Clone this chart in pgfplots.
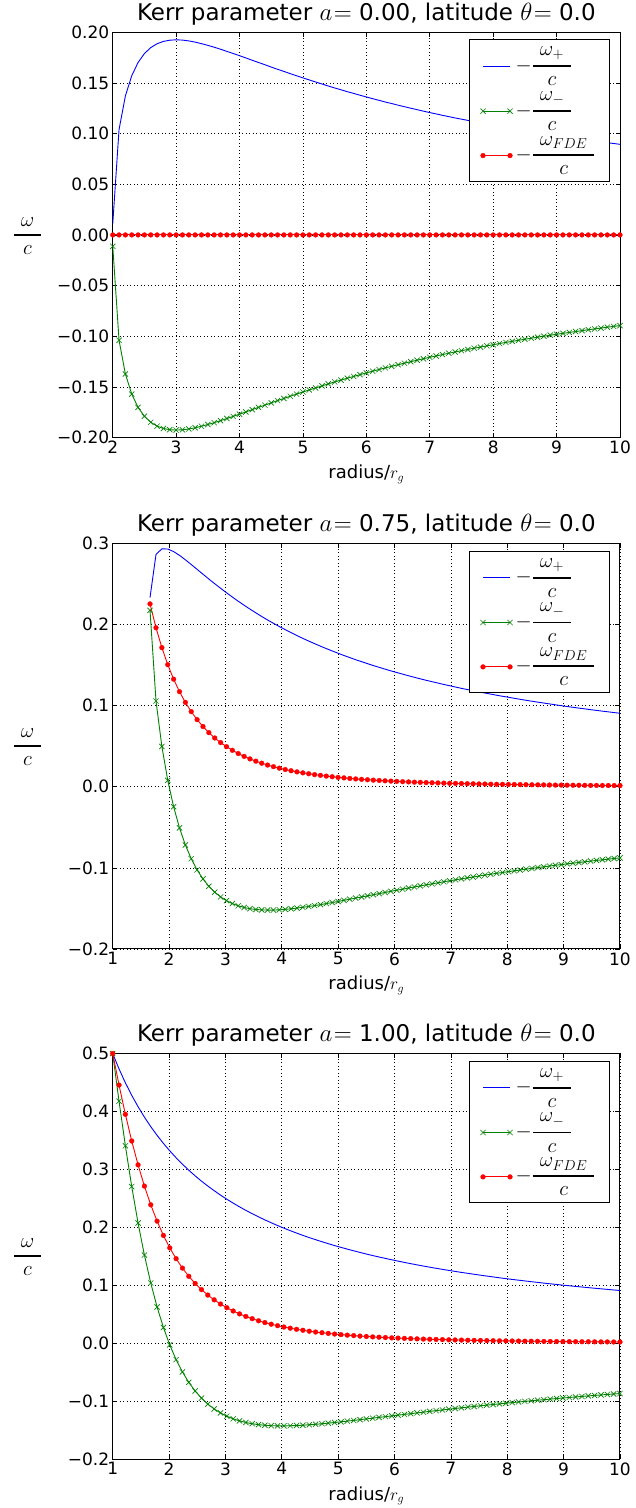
\documentclass[border=0pt]{standalone}
\usepackage{amsmath}
\usepackage{fontspec}
\setmainfont{DejaVu Sans}
\usepackage{pgfplots}
\pgfplotsset{compat=1.18}
\usepackage{pgfplotstable}
\definecolor{mplgreen}{rgb}{0,0.5,0}
\definecolor{mplblue}{rgb}{0,0,1}
\definecolor{mplred}{rgb}{1,0,0}

\pgfplotstableread{
r wp wm wf
2.001 0.0112 -0.0112 0
2.1 0.1039 -0.1039 0
2.2 0.1371 -0.1371 0
2.3 0.1570 -0.1570 0
2.4 0.1701 -0.1701 0
2.5 0.1789 -0.1789 0
2.6 0.1848 -0.1848 0
2.7 0.1886 -0.1886 0
2.8 0.1909 -0.1909 0
2.9 0.1921 -0.1921 0
3.0 0.1925 -0.1925 0
3.1 0.1922 -0.1922 0
3.2 0.1914 -0.1914 0
3.3 0.1902 -0.1902 0
3.4 0.1887 -0.1887 0
3.5 0.1870 -0.1870 0
3.6 0.1852 -0.1852 0
3.7 0.1832 -0.1832 0
3.8 0.1811 -0.1811 0
3.9 0.1790 -0.1790 0
4.0 0.1768 -0.1768 0
4.1 0.1746 -0.1746 0
4.2 0.1723 -0.1723 0
4.3 0.1701 -0.1701 0
4.4 0.1679 -0.1679 0
4.5 0.1656 -0.1656 0
4.6 0.1634 -0.1634 0
4.7 0.1613 -0.1613 0
4.8 0.1591 -0.1591 0
4.9 0.1570 -0.1570 0
5.0 0.1549 -0.1549 0
5.1 0.1529 -0.1529 0
5.2 0.1509 -0.1509 0
5.3 0.1489 -0.1489 0
5.4 0.1469 -0.1469 0
5.5 0.1450 -0.1450 0
5.6 0.1432 -0.1432 0
5.7 0.1413 -0.1413 0
5.8 0.1396 -0.1396 0
5.9 0.1378 -0.1378 0
6.0 0.1361 -0.1361 0
6.1 0.1344 -0.1344 0
6.2 0.1328 -0.1328 0
6.3 0.1311 -0.1311 0
6.4 0.1296 -0.1296 0
6.5 0.1280 -0.1280 0
6.6 0.1265 -0.1265 0
6.7 0.1250 -0.1250 0
6.8 0.1236 -0.1236 0
6.9 0.1221 -0.1221 0
7.0 0.1207 -0.1207 0
7.1 0.1194 -0.1194 0
7.2 0.1180 -0.1180 0
7.3 0.1167 -0.1167 0
7.4 0.1154 -0.1154 0
7.5 0.1142 -0.1142 0
7.6 0.1130 -0.1130 0
7.7 0.1117 -0.1117 0
7.8 0.1106 -0.1106 0
7.9 0.1094 -0.1094 0
8.0 0.1083 -0.1083 0
8.1 0.1071 -0.1071 0
8.2 0.1060 -0.1060 0
8.3 0.1050 -0.1050 0
8.4 0.1039 -0.1039 0
8.5 0.1029 -0.1029 0
8.6 0.1019 -0.1019 0
8.7 0.1009 -0.1009 0
8.8 0.0999 -0.0999 0
8.9 0.0989 -0.0989 0
9.0 0.0980 -0.0980 0
9.1 0.0971 -0.0971 0
9.2 0.0962 -0.0962 0
9.3 0.0953 -0.0953 0
9.4 0.0944 -0.0944 0
9.5 0.0935 -0.0935 0
9.6 0.0927 -0.0927 0
9.7 0.0919 -0.0919 0
9.8 0.0910 -0.0910 0
9.9 0.0902 -0.0902 0
10.0 0.0894 -0.0894 0
}\tA

\pgfplotstableread{
r wp wm wf
1.6622 0.2334 0.2175 0.2255
1.7682 0.2865 0.1058 0.1961
1.8724 0.2934 0.0497 0.1716
1.9766 0.2932 0.0080 0.1506
2.0808 0.2900 -0.0246 0.1327
2.1850 0.2854 -0.0507 0.1173
2.2892 0.2799 -0.0717 0.1041
2.3934 0.2741 -0.0887 0.0927
2.4976 0.2681 -0.1025 0.0828
2.6018 0.2621 -0.1136 0.0743
2.7060 0.2562 -0.1227 0.0668
2.8102 0.2504 -0.1299 0.0602
2.9144 0.2448 -0.1358 0.0545
3.0186 0.2393 -0.1404 0.0495
3.1228 0.2340 -0.1440 0.0450
3.2270 0.2288 -0.1467 0.0410
3.3312 0.2239 -0.1488 0.0375
3.4354 0.2191 -0.1503 0.0344
3.5396 0.2145 -0.1513 0.0316
3.6438 0.2100 -0.1518 0.0291
3.7480 0.2057 -0.1520 0.0268
3.8522 0.2016 -0.1520 0.0248
3.9564 0.1976 -0.1517 0.0230
4.0606 0.1938 -0.1511 0.0213
4.1648 0.1901 -0.1504 0.0198
4.2690 0.1865 -0.1496 0.0184
4.3732 0.1830 -0.1486 0.0172
4.4774 0.1797 -0.1476 0.0161
4.5816 0.1765 -0.1465 0.0150
4.6858 0.1734 -0.1453 0.0141
4.7900 0.1704 -0.1440 0.0132
4.8942 0.1675 -0.1427 0.0124
4.9984 0.1647 -0.1414 0.0116
5.1026 0.1619 -0.1400 0.0110
5.2068 0.1593 -0.1386 0.0103
5.3110 0.1567 -0.1372 0.0097
5.4152 0.1543 -0.1359 0.0092
5.5194 0.1519 -0.1345 0.0087
5.6236 0.1495 -0.1330 0.0082
5.7278 0.1473 -0.1317 0.0078
5.8320 0.1451 -0.1303 0.0074
5.9362 0.1429 -0.1289 0.0070
6.0404 0.1409 -0.1275 0.0067
6.1446 0.1389 -0.1262 0.0063
6.2488 0.1369 -0.1248 0.0060
6.3530 0.1350 -0.1235 0.0057
6.4572 0.1331 -0.1222 0.0055
6.5614 0.1313 -0.1209 0.0052
6.6656 0.1296 -0.1196 0.0050
6.7698 0.1279 -0.1184 0.0048
6.8740 0.1262 -0.1171 0.0045
6.9782 0.1246 -0.1159 0.0043
7.0824 0.1230 -0.1147 0.0042
7.1866 0.1214 -0.1135 0.0040
7.2908 0.1199 -0.1123 0.0038
7.3950 0.1185 -0.1112 0.0037
7.4992 0.1170 -0.1100 0.0035
7.6034 0.1156 -0.1089 0.0034
7.7076 0.1143 -0.1078 0.0032
7.8118 0.1129 -0.1067 0.0031
7.9160 0.1116 -0.1057 0.0030
8.0202 0.1104 -0.1046 0.0029
8.1244 0.1091 -0.1036 0.0028
8.2286 0.1079 -0.1026 0.0027
8.3328 0.1067 -0.1016 0.0026
8.4372 0.1055 -0.1006 0.0025
8.5414 0.1044 -0.0996 0.0024
8.6456 0.1033 -0.0987 0.0023
8.7498 0.1022 -0.0977 0.0022
8.8540 0.1011 -0.0968 0.0021
8.9582 0.1000 -0.0959 0.0021
9.0624 0.0990 -0.0950 0.0020
9.1666 0.0980 -0.0942 0.0019
9.2708 0.0970 -0.0933 0.0019
9.3750 0.0961 -0.0925 0.0018
9.4792 0.0951 -0.0916 0.0017
9.5834 0.0942 -0.0908 0.0017
9.6876 0.0933 -0.0900 0.0016
9.7918 0.0924 -0.0892 0.0016
9.8960 0.0915 -0.0884 0.0015
10.0000 0.0907 -0.0877 0.0015
}\tB

\pgfplotstableread{
r wp wm wf
1.0000 0.5000 0.5000 0.5000
1.1125 0.4734 0.4176 0.4455
1.2250 0.4494 0.3406 0.3950
1.3375 0.4278 0.2703 0.3490
1.4500 0.4082 0.2074 0.3078
1.5625 0.3902 0.1520 0.2711
1.6750 0.3738 0.1038 0.2388
1.7875 0.3587 0.0624 0.2106
1.9000 0.3448 0.0270 0.1859
2.0125 0.3320 -0.0031 0.1644
2.1250 0.3200 -0.0285 0.1458
2.2375 0.3089 -0.0498 0.1295
2.3500 0.2985 -0.0677 0.1154
2.4625 0.2888 -0.0826 0.1031
2.5750 0.2797 -0.0950 0.0924
2.6875 0.2712 -0.1052 0.0830
2.8000 0.2632 -0.1136 0.0748
2.9125 0.2556 -0.1205 0.0675
3.0250 0.2484 -0.1261 0.0612
3.1375 0.2417 -0.1307 0.0555
3.2500 0.2353 -0.1342 0.0505
3.3625 0.2292 -0.1370 0.0461
3.4750 0.2235 -0.1391 0.0422
3.5875 0.2180 -0.1407 0.0386
3.7000 0.2128 -0.1418 0.0355
3.8125 0.2078 -0.1425 0.0327
3.9250 0.2030 -0.1428 0.0301
4.0375 0.1985 -0.1428 0.0278
4.1500 0.1942 -0.1426 0.0258
4.2625 0.1900 -0.1422 0.0239
4.3750 0.1860 -0.1417 0.0222
4.4875 0.1822 -0.1409 0.0206
4.6000 0.1786 -0.1401 0.0192
4.7125 0.1751 -0.1391 0.0180
4.8250 0.1717 -0.1381 0.0168
4.9375 0.1684 -0.1370 0.0157
5.0500 0.1653 -0.1358 0.0147
5.1625 0.1623 -0.1346 0.0138
5.2750 0.1594 -0.1334 0.0130
5.3875 0.1566 -0.1321 0.0122
5.5000 0.1538 -0.1308 0.0115
5.6125 0.1512 -0.1295 0.0108
5.7250 0.1487 -0.1282 0.0102
5.8375 0.1463 -0.1269 0.0097
5.9500 0.1439 -0.1256 0.0091
6.0625 0.1416 -0.1243 0.0087
6.1750 0.1394 -0.1230 0.0082
6.2875 0.1372 -0.1217 0.0078
6.4000 0.1351 -0.1204 0.0074
6.5125 0.1331 -0.1191 0.0070
6.6250 0.1311 -0.1178 0.0067
6.7375 0.1292 -0.1165 0.0064
6.8500 0.1274 -0.1153 0.0061
6.9625 0.1256 -0.1140 0.0058
7.0750 0.1238 -0.1128 0.0055
7.1875 0.1221 -0.1116 0.0053
7.3000 0.1205 -0.1104 0.0050
7.4125 0.1189 -0.1093 0.0048
7.5250 0.1173 -0.1081 0.0046
7.6375 0.1158 -0.1070 0.0044
7.7500 0.1143 -0.1059 0.0042
7.8625 0.1128 -0.1048 0.0040
7.9750 0.1114 -0.1037 0.0039
8.0875 0.1100 -0.1026 0.0037
8.2000 0.1087 -0.1016 0.0036
8.3125 0.1074 -0.1005 0.0034
8.4250 0.1061 -0.0995 0.0033
8.5375 0.1049 -0.0985 0.0032
8.6500 0.1036 -0.0976 0.0030
8.7625 0.1024 -0.0966 0.0029
8.8750 0.1013 -0.0956 0.0028
8.9875 0.1001 -0.0947 0.0027
9.1000 0.0990 -0.0938 0.0026
9.2125 0.0979 -0.0929 0.0025
9.3250 0.0969 -0.0920 0.0024
9.4375 0.0958 -0.0911 0.0024
9.5500 0.0948 -0.0903 0.0023
9.6625 0.0938 -0.0894 0.0022
9.7750 0.0928 -0.0886 0.0021
9.8875 0.0918 -0.0878 0.0020
10.0000 0.0909 -0.0870 0.0020
}\tC

\newcommand{\fs}{\fontsize{17}{20}\selectfont}
\newcommand{\fl}{\fontsize{21}{24}\selectfont}
\newcommand{\mfrac}[2]{\genfrac{}{}{1.8pt}{0}{\mskip6mu#1\mskip6mu}{#2}}

\pgfplotsset{
  kerr/.style={
    scale only axis, width=507.3pt, height=405.5pt,
    anchor=south west,
    tick align=inside, major tick length=4.5pt,
    axis line style={line width=1pt},
    tick style={black, line width=0.7pt},
    grid=major,
    grid style={black, line width=0.6pt, dash pattern=on 1pt off 2.5pt},
    /pgf/number format/assume math mode=true,
    tick label style={font=\fs},
    xmax=10, xtick={1,2,...,10},
    xlabel={radius/$r_g$},
    xlabel style={font=\fontsize{18}{21}\selectfont, at={(axis description cs:0.5,0)}, anchor=base, yshift=-41pt},
    title style={font=\fontsize{23}{27}\selectfont, at={(axis description cs:0.5,1)}, anchor=base, yshift=5.5pt},
    legend style={at={(axis description cs:1,1)}, anchor=north east, xshift=-10pt, yshift=-7.3pt,
      draw=black, line width=0.8pt, font=\fl, row sep=0pt, inner xsep=11pt, inner ysep=4pt,
      nodes={inner sep=3pt, text depth={}},
      /tikz/column 2/.style={column sep=5pt}},
    legend cell align=left,
    legend image code/.code={\draw[##1] plot coordinates {(0pt,0pt) (27pt,0pt)};},
    extra description/.code={\node[font=\fl, anchor=base, yshift=-5.25pt] at (-0.168,0.5) {$\mfrac{\omega}{c}$};},
  },
  lp/.style={mplblue, line width=0.9pt, mark=none},
  lm/.style={mplgreen, line width=0.9pt, mark=x, mark size=3.7pt, mark options={line width=0.65pt}},
  lf/.style={mplred, line width=0.9pt, mark=*, mark size=2.4pt, mark options={fill=mplred, draw=mplred, line width=0.3pt}},
}

\begin{document}
\begin{tikzpicture}
\useasboundingbox (0,0) rectangle (635pt,1508pt);

\begin{axis}[kerr, at={(112.7pt,1070.3pt)},
  title={Kerr parameter ${a}\mskip1mu{=}$ 0.00, latitude ${\theta}\mskip1mu{=}$ 0.0},
  xmin=2, ymin=-0.2, ymax=0.2,
  ytick={-0.2,-0.15,-0.1,-0.05,0,0.05,0.1,0.15,0.2},
  yticklabels={−0.20,−0.15,−0.10,−0.05,0.00,0.05,0.10,0.15,0.20}]
\addplot[lp] table[x=r,y=wp] {\tA};
\addlegendentry{$-\mfrac{\omega_{+}}{c}$}
\addplot[lm] table[x=r,y=wm] {\tA};
\addlegendentry{$-\mfrac{\omega_{-}}{c}$}
\addplot[lf] table[x=r,y=wf] {\tA};
\addlegendentry{$-\mfrac{\omega_{FDE}}{c}$}
\end{axis}

\begin{axis}[kerr, at={(112.7pt,559pt)},
  title={Kerr parameter ${a}\mskip1mu{=}$ 0.75, latitude ${\theta}\mskip1mu{=}$ 0.0},
  xmin=1, ymin=-0.2, ymax=0.3,
  ytick={-0.2,-0.1,0,0.1,0.2,0.3},
  yticklabels={−0.2,−0.1,0.0,0.1,0.2,0.3}]
\addplot[lp] table[x=r,y=wp] {\tB};
\addlegendentry{$-\mfrac{\omega_{+}}{c}$}
\addplot[lm] table[x=r,y=wm] {\tB};
\addlegendentry{$-\mfrac{\omega_{-}}{c}$}
\addplot[lf] table[x=r,y=wf] {\tB};
\addlegendentry{$-\mfrac{\omega_{FDE}}{c}$}
\end{axis}

\begin{axis}[kerr, at={(112.7pt,49pt)},
  title={Kerr parameter ${a}\mskip1mu{=}$ 1.00, latitude ${\theta}\mskip1mu{=}$ 0.0},
  xmin=1, ymin=-0.2, ymax=0.5,
  ytick={-0.2,-0.1,0,0.1,0.2,0.3,0.4,0.5},
  yticklabels={−0.2,−0.1,0.0,0.1,0.2,0.3,0.4,0.5}]
\addplot[lp] table[x=r,y=wp] {\tC};
\addlegendentry{$-\mfrac{\omega_{+}}{c}$}
\addplot[lm] table[x=r,y=wm] {\tC};
\addlegendentry{$-\mfrac{\omega_{-}}{c}$}
\addplot[lf] table[x=r,y=wf] {\tC};
\addlegendentry{$-\mfrac{\omega_{FDE}}{c}$}
\end{axis}
\end{tikzpicture}
\end{document}
